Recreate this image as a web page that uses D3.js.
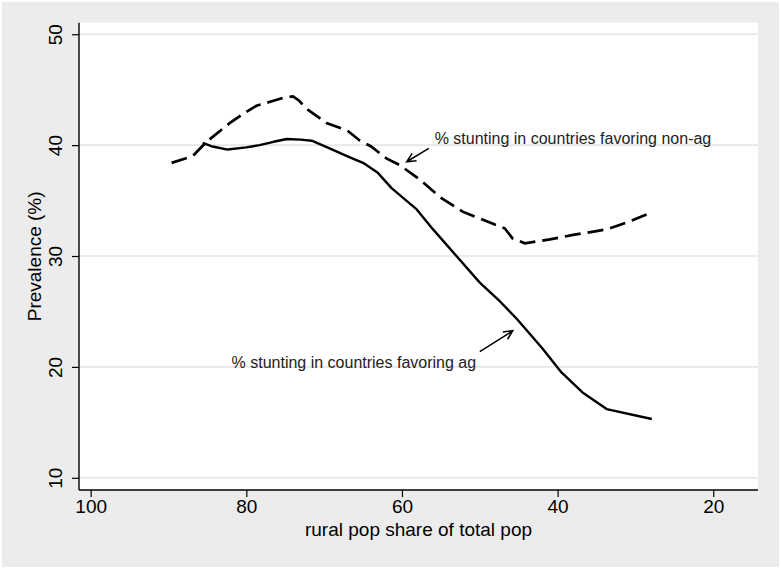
<!DOCTYPE html>
<html>
<head>
<meta charset="utf-8">
<script src="https://cdn.jsdelivr.net/npm/d3@7"></script>
<style>
  body { margin: 0; background: #fff; }
  svg { display: block; font-family: Arial, "Liberation Sans", sans-serif; }
</style>
</head>
<body>
<svg id="chart"></svg>
<script>
// values: rural pop share (x) vs prevalence (y)
const agX = [85.6, 84.5, 82.4, 80, 78.3, 76.5, 74.8, 73, 71.6, 69.3, 66.7, 65, 63.1, 61.3, 58.1, 56, 53, 50, 47.4, 45.2, 42, 39.5, 36.8, 33.7, 27.9]
const agY = [40.2, 39.9, 39.6, 39.8, 40.0, 40.3, 40.55, 40.5, 40.4, 39.7, 38.9, 38.4, 37.5, 36.1, 34.2, 32.4, 30.0, 27.6, 25.9, 24.3, 21.7, 19.5, 17.7, 16.2, 15.3]

const nonagX = [89.6, 86.9, 85.1, 82.1, 80, 78.7, 76.5, 75.3, 74, 73.2, 72.3, 69.7, 67, 65.4, 64, 62, 60.3, 57.7, 55.1, 52.2, 48.3, 46.8, 45.8, 44.2, 41, 38, 35, 33.7, 30.8, 27.9]
const nonagY = [38.4, 39.0, 40.3, 42.0, 43.0, 43.55, 44.0, 44.25, 44.4, 44.0, 43.3, 42.0, 41.3, 40.4, 39.9, 38.8, 38.2, 36.9, 35.3, 34.0, 32.9, 32.5, 31.6, 31.15, 31.5, 31.9, 32.25, 32.4, 33.1, 33.95]

const xTicks = [100, 80, 60, 40, 20]
const yTicks = [10, 20, 30, 40, 50]

// annotation text and arrows, in data units
const notes = [
    {text: "% stunting in countries favoring non-ag", x: 55.8, y: 40.14, from: [56.55, 39.7], to: [59.4, 38.5]},
    {text: "% stunting in countries favoring ag", x: 81.9, y: 19.93, from: [50.0, 21.37], to: [45.76, 23.26]}
]

let W = 781, H = 569
let margin = ({top: 22.7, right: 23, bottom: 79, left: 79});

var svg = d3.select("#chart")
    .attr("width", W)
    .attr("height", H)

// gray graph region
svg.append("rect")
    .attr("x", 2).attr("y", 2)
    .attr("width", W - 4).attr("height", H - 4)
    .attr("fill", "#ececec")

var x = d3.scaleLinear()
    .domain([101.5, 14.25])
    .range([margin.left, W - margin.right])

var y = d3.scaleLinear()
    .domain([8.9, 51.04])
    .range([H - margin.bottom, margin.top])

// white plot region
svg.append("rect")
    .attr("x", margin.left).attr("y", margin.top)
    .attr("width", W - margin.right - margin.left)
    .attr("height", H - margin.bottom - margin.top)
    .attr("fill", "#fff")

// grid lines
svg.append("g")
    .selectAll("line")
    .data(yTicks)
    .enter()
    .append("line")
    .attr("x1", margin.left).attr("x2", W - margin.right)
    .attr("y1", d => y(d)).attr("y2", d => y(d))
    .attr("stroke", "#e6e6e6")
    .attr("stroke-width", 1.6)

// y axis
var yAxis = svg.append("g")
    .attr("transform", "translate(" + margin.left + ",0)")
    .call(d3.axisLeft(y).tickValues(yTicks).tickSize(7).tickPadding(0))
yAxis.select(".domain").attr("stroke", "#000").attr("stroke-width", 1.4)
    .attr("d", "M0," + margin.top + "V" + (H - margin.bottom))
yAxis.selectAll(".tick line").attr("stroke", "#000").attr("stroke-width", 1.2)
yAxis.selectAll(".tick text")
    .attr("font-size", 19)
    .attr("fill", "#000")
    .attr("x", 0).attr("dy", null)
    .attr("text-anchor", "middle")
    .attr("transform", "translate(-17,0) rotate(-90)")

// x axis
var xAxis = svg.append("g")
    .attr("transform", "translate(0," + (H - margin.bottom) + ")")
    .call(d3.axisBottom(x).tickValues(xTicks).tickSize(7).tickPadding(3))
xAxis.select(".domain").attr("stroke", "#000").attr("stroke-width", 1.4)
    .attr("d", "M" + margin.left + ",0H" + (W - margin.right))
xAxis.selectAll(".tick line").attr("stroke", "#000").attr("stroke-width", 1.2)
xAxis.selectAll(".tick text")
    .attr("font-size", 19)
    .attr("fill", "#000")

// axis titles
svg.append("text")
    .attr("x", (margin.left + W - margin.right) / 2)
    .attr("y", 536)
    .attr("text-anchor", "middle")
    .attr("font-size", 19)
    .text("rural pop share of total pop")

svg.append("text")
    .attr("transform", "translate(41," + (margin.top + H - margin.bottom) / 2 + ") rotate(-90)")
    .attr("text-anchor", "middle")
    .attr("font-size", 19)
    .text("Prevalence (%)")

// lines
var line = d3.line()
    .x(d => x(d[0]))
    .y(d => y(d[1]))

svg.append("path")
    .datum(d3.zip(nonagX, nonagY))
    .attr("fill", "none")
    .attr("stroke", "#000")
    .attr("stroke-width", 2.7)
    .attr("stroke-dasharray", "16,7")
    .attr("d", line)

svg.append("path")
    .datum(d3.zip(agX, agY))
    .attr("fill", "none")
    .attr("stroke", "#000")
    .attr("stroke-width", 2.4)
    .attr("stroke-linejoin", "round")
    .attr("d", line)

// annotations
notes.forEach(n => {
    svg.append("text")
        .attr("x", x(n.x))
        .attr("y", y(n.y))
        .attr("font-size", 16)
        .attr("fill", "#222")
        .text(n.text)

    let x1 = x(n.from[0]), y1 = y(n.from[1])
    let x2 = x(n.to[0]), y2 = y(n.to[1])
    let ang = Math.atan2(y2 - y1, x2 - x1)
    let len = 10, spread = 0.45
    let p = "M" + x1 + "," + y1 + "L" + x2 + "," + y2
    p += "M" + (x2 - len * Math.cos(ang - spread)) + "," + (y2 - len * Math.sin(ang - spread))
    p += "L" + x2 + "," + y2
    p += "L" + (x2 - len * Math.cos(ang + spread)) + "," + (y2 - len * Math.sin(ang + spread))
    svg.append("path")
        .attr("d", p)
        .attr("fill", "none")
        .attr("stroke", "#000")
        .attr("stroke-width", 1.5)
})
</script>
</body>
</html>
